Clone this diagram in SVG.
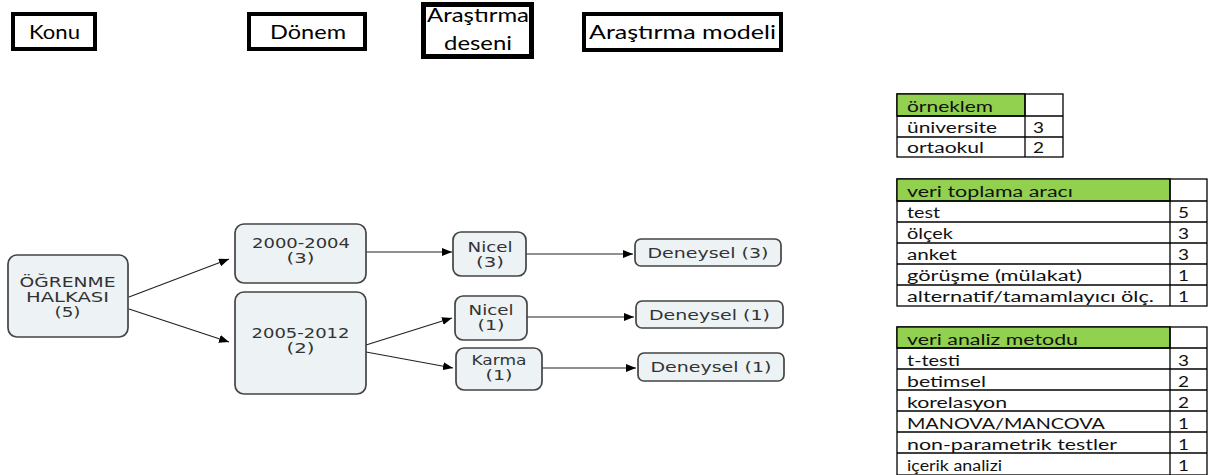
<svg xmlns="http://www.w3.org/2000/svg" width="1221" height="475" viewBox="0 0 1221 475">
<style>
.hdr{fill:#fff;stroke:#000;stroke-width:4}
.ht{font-family:Lato,"Open Sans",sans-serif;font-size:19px;fill:#000;text-anchor:middle}
.nd{fill:#edf2f5;stroke:#444;stroke-width:1.7}
.nt{font-family:"DejaVu Sans",Verdana,sans-serif;font-size:14px;fill:#333;text-anchor:middle}
.cn{stroke:#222;stroke-width:1.2;fill:none}
.tb{fill:#fff;stroke:#000;stroke-width:1.3}
.gr{fill:#92d050;stroke:#000;stroke-width:1.3}
.tl{stroke:#000;stroke-width:1.3}
.tt{font-family:Lato,"Open Sans",sans-serif;font-size:15.5px;fill:#111}
</style>
<defs>
<marker id="ah" viewBox="0 0 10 8" refX="10" refY="4" markerWidth="10" markerHeight="8" markerUnits="userSpaceOnUse" orient="auto">
<path d="M0,0 L10,4 L0,8 z" fill="#000"/>
</marker>
</defs>

<g id="header-konu">
<rect class="hdr" x="13" y="14" width="82" height="35"/>
<text class="ht" x="54.5" y="39" textLength="51" lengthAdjust="spacingAndGlyphs">Konu</text>
</g>
<g id="header-donem">
<rect class="hdr" x="249" y="14" width="116" height="35"/>
<text class="ht" x="308" y="39" textLength="76" lengthAdjust="spacingAndGlyphs">Dönem</text>
</g>
<g id="header-desen">
<rect class="hdr" x="423.5" y="4.5" width="108" height="52" style="stroke-width:5"/>
<text class="ht" x="478" y="22" textLength="102" lengthAdjust="spacingAndGlyphs">Araştırma</text>
<text class="ht" x="478" y="50" textLength="68" lengthAdjust="spacingAndGlyphs">deseni</text>
</g>
<g id="header-model">
<rect class="hdr" x="584" y="14" width="197" height="36"/>
<text class="ht" x="682.5" y="39" textLength="187" lengthAdjust="spacingAndGlyphs">Araştırma modeli</text>
</g>

<g id="connectors">
<line class="cn" x1="129" y1="297" x2="229" y2="259" marker-end="url(#ah)"/>
<line class="cn" x1="129" y1="309" x2="229" y2="342" marker-end="url(#ah)"/>
<line class="cn" x1="366" y1="252" x2="452" y2="252" marker-end="url(#ah)"/>
<line class="cn" x1="366" y1="345" x2="452" y2="318" marker-end="url(#ah)"/>
<line class="cn" x1="366" y1="352" x2="453" y2="368" marker-end="url(#ah)"/>
<line class="cn" x1="526" y1="254" x2="633" y2="254" marker-end="url(#ah)"/>
<line class="cn" x1="523" y1="317" x2="634" y2="317" marker-end="url(#ah)"/>
<line class="cn" x1="542" y1="368" x2="636" y2="368" marker-end="url(#ah)"/>
</g>

<g id="node-ogrenme">
<rect class="nd" x="8" y="255" width="120" height="82" rx="9"/>
<text class="nt" x="67.5" y="287" textLength="96" lengthAdjust="spacingAndGlyphs">ÖĞRENME</text>
<text class="nt" x="67.5" y="302" textLength="83" lengthAdjust="spacingAndGlyphs">HALKASI</text>
<text class="nt" x="67.5" y="317" textLength="26" lengthAdjust="spacingAndGlyphs">(5)</text>
</g>
<g id="node-2000">
<rect class="nd" x="235" y="224" width="131" height="59" rx="9"/>
<text class="nt" x="301" y="248" textLength="98" lengthAdjust="spacingAndGlyphs">2000-2004</text>
<text class="nt" x="300.5" y="263" textLength="28" lengthAdjust="spacingAndGlyphs">(3)</text>
</g>
<g id="node-2005">
<rect class="nd" x="235" y="292" width="131" height="102" rx="9"/>
<text class="nt" x="300.5" y="338" textLength="98" lengthAdjust="spacingAndGlyphs">2005-2012</text>
<text class="nt" x="300.5" y="353" textLength="28" lengthAdjust="spacingAndGlyphs">(2)</text>
</g>
<g id="node-nicel3">
<rect class="nd" x="453" y="232" width="73" height="44" rx="8"/>
<text class="nt" x="490" y="252" textLength="45" lengthAdjust="spacingAndGlyphs">Nicel</text>
<text class="nt" x="490" y="267" textLength="28" lengthAdjust="spacingAndGlyphs">(3)</text>
</g>
<g id="node-nicel1">
<rect class="nd" x="455" y="296" width="72" height="44" rx="8"/>
<text class="nt" x="491" y="315" textLength="45" lengthAdjust="spacingAndGlyphs">Nicel</text>
<text class="nt" x="491" y="330" textLength="27" lengthAdjust="spacingAndGlyphs">(1)</text>
</g>
<g id="node-karma">
<rect class="nd" x="456" y="348" width="86" height="42" rx="8"/>
<text class="nt" x="499" y="365" textLength="55" lengthAdjust="spacingAndGlyphs">Karma</text>
<text class="nt" x="499" y="380" textLength="27" lengthAdjust="spacingAndGlyphs">(1)</text>
</g>
<g id="node-deneysel3">
<rect class="nd" x="635" y="239" width="146" height="27" rx="6"/>
<text class="nt" x="708" y="257.5" textLength="121" lengthAdjust="spacingAndGlyphs">Deneysel (3)</text>
</g>
<g id="node-deneysel1a">
<rect class="nd" x="636" y="301" width="147" height="27" rx="6"/>
<text class="nt" x="709.5" y="319.5" textLength="121" lengthAdjust="spacingAndGlyphs">Deneysel (1)</text>
</g>
<g id="node-deneysel1b">
<rect class="nd" x="638" y="353" width="146" height="28" rx="6"/>
<text class="nt" x="711" y="372" textLength="121" lengthAdjust="spacingAndGlyphs">Deneysel (1)</text>
</g>

<g id="table-orneklem">
<rect class="tb" x="897" y="94" width="166" height="63"/>
<rect class="gr" x="897" y="94" width="128" height="22"/>
<line class="tl" x1="897" y1="116" x2="1063" y2="116"/>
<line class="tl" x1="897" y1="137" x2="1063" y2="137"/>
<line class="tl" x1="1025" y1="94" x2="1025" y2="157"/>
<text class="tt" x="907" y="112" textLength="86" lengthAdjust="spacingAndGlyphs">örneklem</text>
<text class="tt" x="907" y="133" textLength="90" lengthAdjust="spacingAndGlyphs">üniversite</text>
<text class="tt" x="907" y="153" textLength="77" lengthAdjust="spacingAndGlyphs">ortaokul</text>
<text class="tt" x="1033" y="133" textLength="11" lengthAdjust="spacingAndGlyphs">3</text>
<text class="tt" x="1033" y="153" textLength="11" lengthAdjust="spacingAndGlyphs">2</text>
</g>

<g id="table-veri-toplama">
<rect class="tb" x="897" y="179" width="310" height="127"/>
<rect class="gr" x="897" y="179" width="273" height="22"/>
<line class="tl" x1="897" y1="201" x2="1207" y2="201"/>
<line class="tl" x1="897" y1="222" x2="1207" y2="222"/>
<line class="tl" x1="897" y1="243" x2="1207" y2="243"/>
<line class="tl" x1="897" y1="264" x2="1207" y2="264"/>
<line class="tl" x1="897" y1="285" x2="1207" y2="285"/>
<line class="tl" x1="1170" y1="179" x2="1170" y2="306"/>
<text class="tt" x="907" y="197" textLength="166" lengthAdjust="spacingAndGlyphs">veri toplama aracı</text>
<text class="tt" x="907" y="218" textLength="33" lengthAdjust="spacingAndGlyphs">test</text>
<text class="tt" x="907" y="239" textLength="46" lengthAdjust="spacingAndGlyphs">ölçek</text>
<text class="tt" x="907" y="260" textLength="50" lengthAdjust="spacingAndGlyphs">anket</text>
<text class="tt" x="907" y="281" textLength="175" lengthAdjust="spacingAndGlyphs">görüşme (mülakat)</text>
<text class="tt" x="907" y="302" textLength="247" lengthAdjust="spacingAndGlyphs">alternatif/tamamlayıcı ölç.</text>
<text class="tt" x="1178" y="218" textLength="11" lengthAdjust="spacingAndGlyphs">5</text>
<text class="tt" x="1178" y="239" textLength="11" lengthAdjust="spacingAndGlyphs">3</text>
<text class="tt" x="1178" y="260" textLength="11" lengthAdjust="spacingAndGlyphs">3</text>
<text class="tt" x="1178" y="281" textLength="11" lengthAdjust="spacingAndGlyphs">1</text>
<text class="tt" x="1178" y="302" textLength="11" lengthAdjust="spacingAndGlyphs">1</text>
</g>

<g id="table-veri-analiz">
<rect class="tb" x="897" y="327" width="310" height="148"/>
<rect class="gr" x="897" y="327" width="273" height="21"/>
<line class="tl" x1="897" y1="348" x2="1207" y2="348"/>
<line class="tl" x1="897" y1="369" x2="1207" y2="369"/>
<line class="tl" x1="897" y1="390" x2="1207" y2="390"/>
<line class="tl" x1="897" y1="411" x2="1207" y2="411"/>
<line class="tl" x1="897" y1="432" x2="1207" y2="432"/>
<line class="tl" x1="897" y1="453" x2="1207" y2="453"/>
<line class="tl" x1="1170" y1="327" x2="1170" y2="475"/>
<text class="tt" x="907" y="345" textLength="171" lengthAdjust="spacingAndGlyphs">veri analiz metodu</text>
<text class="tt" x="907" y="366" textLength="53" lengthAdjust="spacingAndGlyphs">t-testi</text>
<text class="tt" x="907" y="387" textLength="79" lengthAdjust="spacingAndGlyphs">betimsel</text>
<text class="tt" x="907" y="408" textLength="100" lengthAdjust="spacingAndGlyphs">korelasyon</text>
<text class="tt" x="907" y="429" textLength="198" lengthAdjust="spacingAndGlyphs">MANOVA/MANCOVA</text>
<text class="tt" x="907" y="450" textLength="210" lengthAdjust="spacingAndGlyphs">non-parametrik testler</text>
<text class="tt" x="907" y="471" textLength="95" lengthAdjust="spacingAndGlyphs">içerik analizi</text>
<text class="tt" x="1178" y="366" textLength="11" lengthAdjust="spacingAndGlyphs">3</text>
<text class="tt" x="1178" y="387" textLength="11" lengthAdjust="spacingAndGlyphs">2</text>
<text class="tt" x="1178" y="408" textLength="11" lengthAdjust="spacingAndGlyphs">2</text>
<text class="tt" x="1178" y="429" textLength="11" lengthAdjust="spacingAndGlyphs">1</text>
<text class="tt" x="1178" y="450" textLength="11" lengthAdjust="spacingAndGlyphs">1</text>
<text class="tt" x="1178" y="471" textLength="11" lengthAdjust="spacingAndGlyphs">1</text>
</g>
</svg>
